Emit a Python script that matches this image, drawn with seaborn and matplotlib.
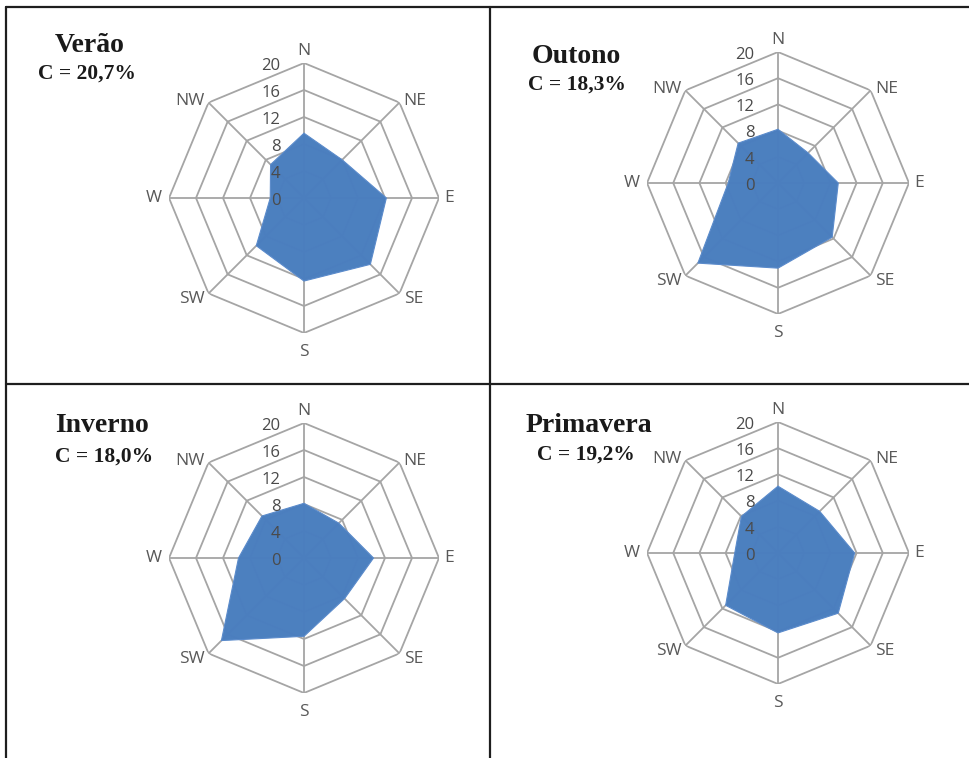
import numpy as np
import matplotlib.pyplot as plt
from matplotlib.lines import Line2D
import seaborn as sns

# --- data ---
directions = ['N', 'NE', 'E', 'SE', 'S', 'SW', 'W', 'NW']
verao = [9.6, 8.0, 12.2, 13.9, 12.3, 10.0, 5.0, 7.0]
outono = [8.2, 6.5, 9.2, 11.7, 13.0, 17.3, 7.6, 8.6]
inverno = [8.1, 7.3, 10.3, 8.5, 11.6, 17.3, 9.7, 8.8]
primavera = [10.2, 9.0, 11.7, 13.0, 12.2, 11.3, 6.6, 7.9]
seasons = ['Verão', 'Outono', 'Inverno', 'Primavera']
calm = ['C = 20,7%', 'C = 18,3%', 'C = 18,0%', 'C = 19,2%']
r_ticks = [0, 4, 8, 12, 16, 20]

sns.set_theme(style='white')
plt.rcParams['font.family'] = ['Open Sans', 'DejaVu Sans']

W, H = 969, 758
fig = plt.figure(figsize=(W / 100, H / 100), dpi=100)
fig.patch.set_facecolor('white')

# layout in pixels: chart centre, radius, title centre / baselines
centers = [(304, 198, 135), (778, 183, 131), (304, 558, 135), (778, 553, 131)]
titles_pos = [(90, 52, 87, 79), (576, 63, 577, 90), (102, 432, 104, 462), (589, 432, 586, 460)]

fill_col = '#4A7EBF'
grid_col = '#A5A5A5'
label_col = '#595959'

theta = np.deg2rad(np.arange(len(directions)) * 45)
theta_c = np.append(theta, 2 * np.pi)

# label placement around the rim
lab_off = {'N': (0, 3, 'center', 'bottom'), 'NE': (3, 1, 'left', 'center'),
           'E': (4, 0, 'left', 'center'), 'SE': (3, -4, 'left', 'center'),
           'S': (0, -8, 'center', 'top'), 'SW': (-3, -4, 'right', 'center'),
           'W': (-5, 0, 'right', 'center'), 'NW': (-3, 1, 'right', 'center')}

for vals, name, c_txt, (cx, cy, rad), (tx, ty, cx2, cy2) in zip(
        [verao, outono, inverno, primavera], seasons, calm, centers, titles_pos):
    ax = fig.add_axes([(cx - rad) / W, 1 - (cy + rad) / H, 2 * rad / W, 2 * rad / H],
                      projection='polar')
    ax.set_theta_zero_location('N')
    ax.set_theta_direction(-1)
    ax.set_ylim(0, 20)
    ax.grid(False)
    ax.spines['polar'].set_visible(False)
    ax.set_xticks([])
    ax.set_yticks([])
    ax.patch.set_facecolor('none')

    # octagonal rings and spokes
    for t in r_ticks[1:]:
        ax.plot(theta_c, [t] * len(theta_c), color=grid_col, lw=1.3, zorder=1)
    for a in theta:
        ax.plot([a, a], [0, 20], color=grid_col, lw=1.3, zorder=1)

    v = np.append(vals, vals[0])
    ax.fill(theta_c, v, color=fill_col, alpha=0.99, zorder=2, lw=0)
    sns.lineplot(x=theta_c, y=v, sort=False, estimator=None, ax=ax,
                 color='#5B8BCB', lw=0.8, zorder=3)
    ax.set_xlabel('')
    ax.set_ylabel('')

    for t in r_ticks:
        ax.annotate(str(t), xy=(0, t), xytext=(-17, -2), textcoords='offset points',
                    ha='right', va='center', fontsize=12, color='#4A4A4A', zorder=5)
    for a, d in zip(theta, directions):
        dx, dy, ha, va = lab_off[d]
        ax.annotate(d, xy=(a, 20), xytext=(dx, dy), textcoords='offset points',
                    ha=ha, va=va, fontsize=12.5, color=label_col, annotation_clip=False)

    fig.text(tx / W, 1 - ty / H, name, ha='center', va='baseline',
             family='Liberation Serif', fontweight='bold', fontsize=20, color='#1A1A1A')
    fig.text(cx2 / W, 1 - cy2 / H, c_txt, ha='center', va='baseline',
             family='Liberation Serif', fontweight='bold', fontsize=15.5, color='#1A1A1A')

# table frame
for xs, ys in [([6, 6], [7, H]), ([6, W], [7, 7]), ([490, 490], [7, H]), ([6, W], [384, 384])]:
    fig.add_artist(Line2D([x / W for x in xs], [1 - y / H for y in ys],
                          color='#1E1E1E', lw=1.6))

plt.savefig('out.png', dpi=100)
